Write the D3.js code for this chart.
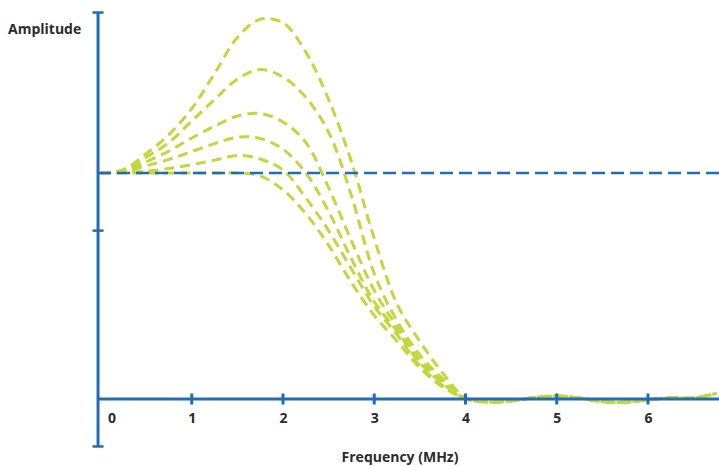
<!DOCTYPE html>
<html>
<head>
<meta charset="utf-8">
<script src="https://cdn.jsdelivr.net/npm/d3@7"></script>
<style>
  html, body { margin: 0; padding: 0; background: #fff; }
  svg text { font-family: "Open Sans", sans-serif; font-weight: 700; fill: #2b2b2b; }
</style>
</head>
<body>
<div id="chart"></div>
<script>
// frequency grid (MHz)
const freqs = [0, 0.25, 0.5, 0.75, 1, 1.25, 1.5, 1.75, 2, 2.25, 2.5, 2.75, 3, 3.25, 3.5, 3.75, 4,
               4.25, 4.5, 4.75, 5, 5.25, 5.5, 5.75, 6, 6.25, 6.5, 6.75]

// ripple past 4 MHz, shared by every curve
const tail = [-0.013, -0.008, 0.006, 0.013, 0.004, -0.011, -0.014, -0.003, 0.005, 0.004, 0.025]

const curve1 = [1.0, 1.015, 1.085, 1.17, 1.285, 1.44, 1.60, 1.68, 1.665, 1.535, 1.325, 1.05, 0.71, 0.42, 0.255, 0.115, 0.005]
const curve2 = [1.0, 1.012, 1.07, 1.135, 1.23, 1.325, 1.415, 1.458, 1.425, 1.335, 1.18, 0.9, 0.555, 0.345, 0.195, 0.09, 0.003]
const curve3 = [1.0, 1.008, 1.05, 1.097, 1.155, 1.207, 1.252, 1.263, 1.226, 1.135, 0.935, 0.70, 0.48, 0.32, 0.175, 0.078, 0.002]
const curve4 = [1.0, 1.005, 1.032, 1.06, 1.095, 1.13, 1.158, 1.153, 1.105, 1.0, 0.83, 0.62, 0.43, 0.30, 0.16, 0.068, 0.002]
const curve5 = [1.0, 1.002, 1.008, 1.02, 1.037, 1.057, 1.078, 1.062, 1.013, 0.89, 0.745, 0.575, 0.41, 0.285, 0.148, 0.06, 0.002]
const curve6 = [1.0, 1.0, 1.0, 1.0, 1.0, 1.0, 1.0, 0.987, 0.925, 0.82, 0.68, 0.515, 0.37, 0.255, 0.138, 0.053, 0.002]

const xTicks = [0, 1, 2, 3, 4, 5, 6]
const yTicks = [0.745]
const refLevel = 1
const xExtent = [-0.027, 6.8]
const yExtent = [-0.21, 1.71]

const width = 719
const height = 466
const blue = '#1f6db6'
const green = '#c2d73c'

const series = [curve1, curve2, curve3, curve4, curve5, curve6]
  .map((c) => c.concat(tail).map((v, i) => [freqs[i], v]))

var svg = d3.select('#chart')
  .append('svg')
  .attr('width', width)
  .attr('height', height)

var x = d3.scaleLinear()
  .domain([0, 6])
  .range([100.5, 648])

var y = d3.scaleLinear()
  .domain([0, 1])
  .range([399, 173])

// green response curves
var line = d3.line()
  .x((d) => x(d[0]))
  .y((d) => y(d[1]))
  .curve(d3.curveCatmullRom.alpha(0.5))

svg.selectAll('.resp')
  .data(series)
  .enter()
  .append('path')
    .attr('class', 'resp')
    .attr('d', (d) => line(d))
    .attr('fill', 'none')
    .attr('stroke', green)
    .attr('stroke-width', 3)
    .attr('stroke-dasharray', '10,6')

// reference level
svg.append('line')
  .attr('x1', x(xExtent[0])).attr('x2', width)
  .attr('y1', y(refLevel)).attr('y2', y(refLevel))
  .attr('stroke', blue)
  .attr('stroke-width', 2.5)
  .attr('stroke-dasharray', '13,6')

// x axis
var xAxis = svg.append('g')
  .attr('transform', `translate(0,${y(0)})`)
  .call(d3.axisBottom(x).tickValues(xTicks).tickSize(0).tickPadding(14).tickFormat(d3.format('d')))
xAxis.select('.domain').remove()
xAxis.selectAll('text')
  .attr('font-size', 14)
  .attr('dx', (d) => d === 0 ? 11 : 0)

svg.append('line')
  .attr('x1', x(xExtent[0])).attr('x2', width)
  .attr('y1', y(0)).attr('y2', y(0))
  .attr('stroke', blue).attr('stroke-width', 3)

svg.selectAll('.xtick')
  .data(xTicks.filter((d) => d > 0))
  .enter()
  .append('line')
    .attr('x1', (d) => x(d)).attr('x2', (d) => x(d))
    .attr('y1', y(0) - 5.5).attr('y2', y(0) + 5.5)
    .attr('stroke', blue).attr('stroke-width', 3)

// y axis with end caps
const ax = x(xExtent[0])
svg.append('line')
  .attr('x1', ax).attr('x2', ax)
  .attr('y1', y(yExtent[1])).attr('y2', y(yExtent[0]))
  .attr('stroke', blue).attr('stroke-width', 3)

svg.selectAll('.ycap')
  .data(yExtent.concat(yTicks))
  .enter()
  .append('line')
    .attr('x1', ax - 5.5).attr('x2', ax + 5.5)
    .attr('y1', (d) => y(d)).attr('y2', (d) => y(d))
    .attr('stroke', blue).attr('stroke-width', 2.5)

// titles
svg.append('text')
  .attr('x', 8).attr('y', 34)
  .attr('font-size', 14)
  .text('Amplitude')

svg.append('text')
  .attr('x', 400).attr('y', 462)
  .attr('text-anchor', 'middle')
  .attr('font-size', 14)
  .text('Frequency (MHz)')
</script>
</body>
</html>
